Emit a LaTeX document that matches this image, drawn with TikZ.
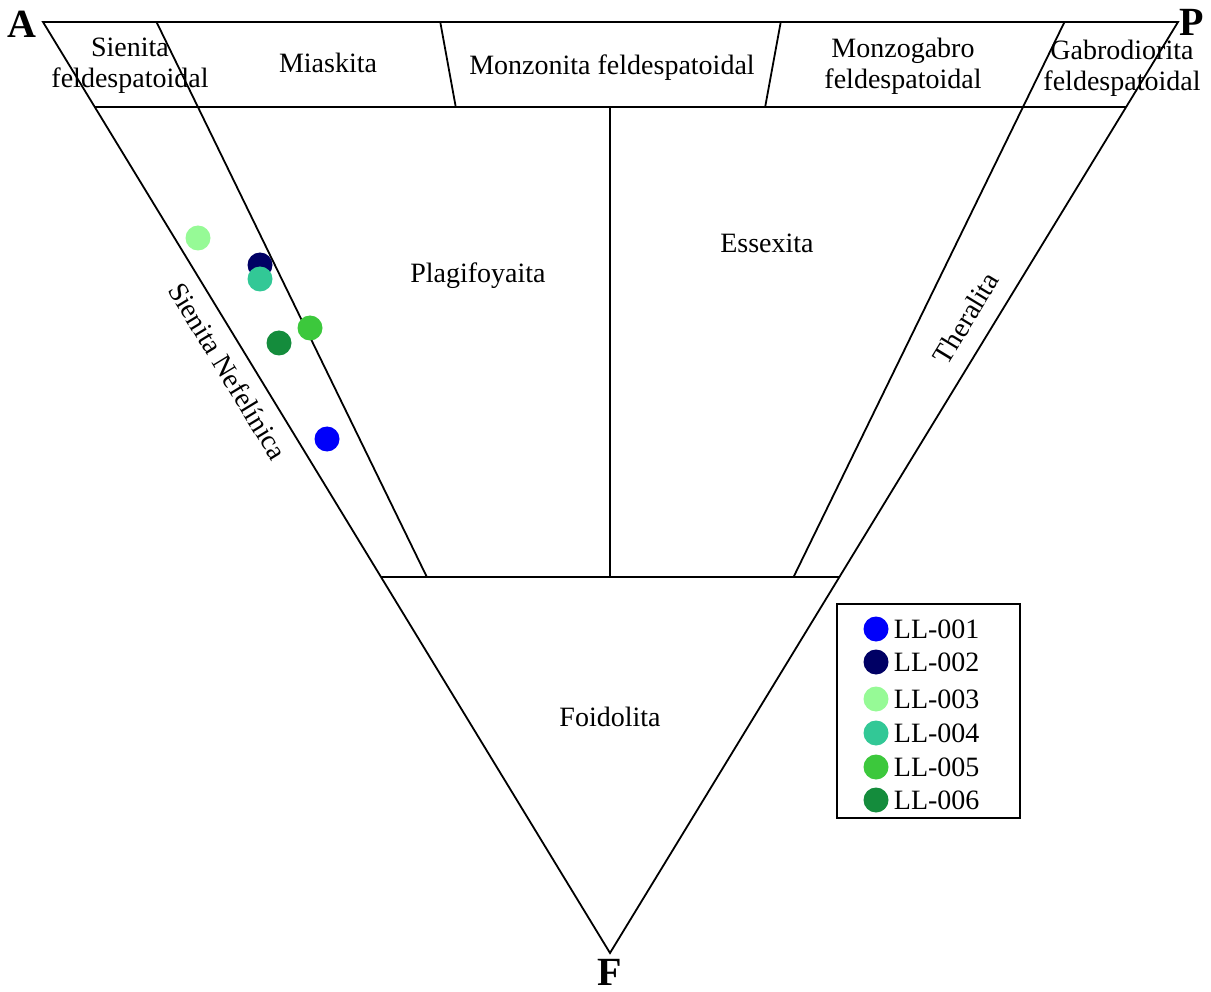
\documentclass[tikz,border=0pt]{standalone}
\usepackage{fontspec}
\setmainfont{Liberation Serif}
\usetikzlibrary{calc}
\definecolor{ll1}{RGB}{0,0,250}
\definecolor{ll2}{RGB}{0,0,100}
\definecolor{ll3}{RGB}{150,250,150}
\definecolor{ll4}{RGB}{50,200,150}
\definecolor{ll5}{RGB}{60,200,60}
\definecolor{ll6}{RGB}{20,140,60}
\tikzset{
  field/.style={font=\fontsize{28}{31}\selectfont,align=center},
  vertex/.style={font=\fontsize{40}{40}\selectfont\bfseries},
  sample/.style={circle,inner sep=0pt,minimum size=25pt},
}
\begin{document}
\begin{tikzpicture}[x=1pt,y=-1pt,line width=1.8pt]
      \useasboundingbox (0,0) rectangle (1211,992);
      % corners of the triangle
      \coordinate (A) at (43,22);
      \coordinate (P) at (1178,22);
      \coordinate (F) at (610,953);
      \draw (A) -- (P) -- (F) -- cycle;
      % horizontal limits
      \draw ($(A)!0.0913!(F)$) coordinate (l1) -- ($(P)!0.0913!(F)$) coordinate (r1);
      \draw ($(A)!0.596!(F)$) coordinate (l2) -- ($(P)!0.596!(F)$) coordinate (r2);
      % lines towards F
      \coordinate (a1) at ($(A)!0.1!(P)$);
      \coordinate (a2) at ($(A)!0.35!(P)$);
      \coordinate (a3) at ($(A)!0.65!(P)$);
      \coordinate (a4) at ($(A)!0.9!(P)$);
      \draw (a1) -- ($(a1)!0.596!(F)$);
      \draw (a2) -- ($(a2)!0.0913!(F)$);
      \draw (a3) -- ($(a3)!0.0913!(F)$);
      \draw (a4) -- ($(a4)!0.596!(F)$);
      \draw (610,107) -- (610,577);
      % vertex letters
      \node[vertex] (lA) at (22,24) {A};
      \node[vertex] (lP) at (1192,22) {P};
      \node[vertex] (lF) at (610,972) {F};
      % field names
      \node[field] (sf) at (130,66) {Sienita\\feldespatoidal};
      \node[field] (mi) at (328,63) {Miaskita};
      \node[field] (mf) at (612,68) {Monzonita feldespatoidal};
      \node[field] (mg) at (903,66) {Monzogabro\\feldespatoidal};
      \node[field] (gf) at (1122,68) {Gabrodiorita\\feldespatoidal};
      \node[field] (pl) at (478,276) {Plagifoyaita};
      \node[field] (es) at (767,243) {Essexita};
      \node[field] (fo) at (610,717) {Foidolita};
      \node[field,rotate=-58.7] (sn) at (228,371) {Sienita Nefelínica};
      \node[field,rotate=58.7] (th) at (966,318) {Theralita};
      % samples
      \node[sample,fill=ll3] (s3) at (198,238) {};
      \node[sample,fill=ll2] (s2) at (260,265) {};
      \node[sample,fill=ll4] (s4) at (260,279) {};
      \node[sample,fill=ll5] (s5) at (310,328) {};
      \node[sample,fill=ll6] (s6) at (279,343) {};
      \node[sample,fill=ll1] (s1) at (327,439) {};
      % legend
      \draw[line width=1.2pt] (837,604) rectangle (1020,818);
      \foreach \i/\y in {1/629,2/662,3/699,4/733,5/767,6/800}
        \node[sample,fill=ll\i] (k\i) at (876,\y) {};
      \foreach \i/\y in {1/629,2/662,3/699,4/733,5/767,6/800}
        \node[field,anchor=west,inner sep=0pt] (t\i) at (893,\y) {LL-00\i};
\end{tikzpicture}
\end{document}
